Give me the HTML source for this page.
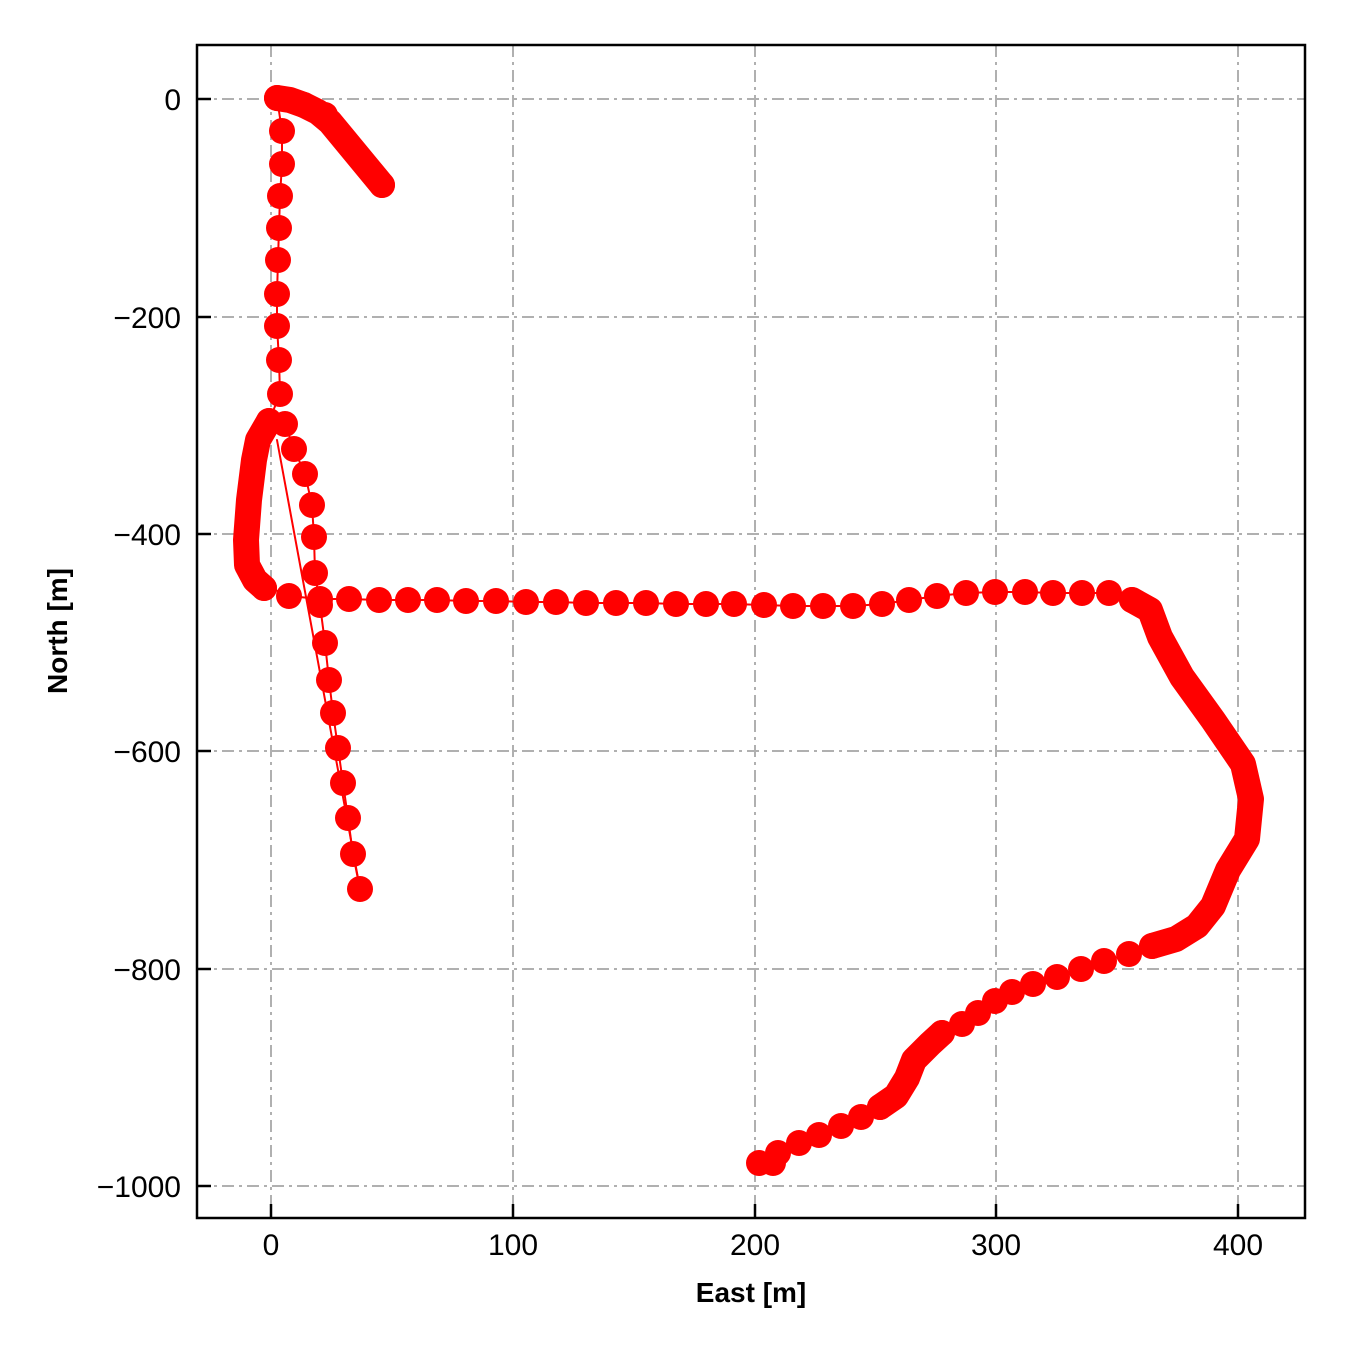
<!DOCTYPE html>
<html><head><meta charset="utf-8"><style>body{margin:0;background:#fff}svg{display:block}</style></head><body>
<svg width="1350" height="1350" xmlns="http://www.w3.org/2000/svg" font-family="Liberation Sans, sans-serif">
<g stroke="#b0b0b0" stroke-width="2" stroke-dasharray="12,5,3,5">
<line x1="271" y1="45" x2="271" y2="1218"/><line x1="513" y1="45" x2="513" y2="1218"/><line x1="755" y1="45" x2="755" y2="1218"/><line x1="996" y1="45" x2="996" y2="1218"/><line x1="1238" y1="45" x2="1238" y2="1218"/>
<line x1="197" y1="99" x2="1305" y2="99"/><line x1="197" y1="317" x2="1305" y2="317"/><line x1="197" y1="534" x2="1305" y2="534"/><line x1="197" y1="751" x2="1305" y2="751"/><line x1="197" y1="969" x2="1305" y2="969"/><line x1="197" y1="1186" x2="1305" y2="1186"/>
</g>
<g fill="none" stroke="#f00" stroke-linecap="round" stroke-linejoin="round">
<polyline stroke-width="2" points="277,98 282,131 282,164 280,196 279,228 278,260 277,294 277,326 279,360 280,394 269,421"/>
<line x1="277" y1="440" x2="360" y2="889" stroke-width="2"/>
<polyline stroke-width="2" points="285,424 294,449 305,474 312,505 314,537 315,573 320,605 325,643 329,680 333,713 338,748 343,783 348,818 353,854 360,889"/>
<polyline stroke-width="26" points="277,98 290,100 304,105 318,112 330,122 382,185"/>
<polyline stroke-width="26" points="269,421 258,440 254,460 249,500 246,540 247,565 255,580 264,588"/>
<polyline stroke-width="2" points="264,585 289,596 320,599 349,599 379,600 408,600 437,600 466,601 496,601 526,602 556,602 586,603 616,603 646,603 676,604 706,604 734,604 764,605 793,606 823,606 853,606 882,604 909,600 937,596 966,593 995,592 1025,592 1053,593 1082,593 1109,593 1132,600"/>
<polyline stroke-width="26" points="1132,600 1150,610 1160,637 1182,677 1213,720 1243,764 1251,799 1247,839 1228,870 1213,906 1197,926 1176,939 1152,946"/>
<polyline stroke-width="2" points="1152,946 1129,954 1104,961 1081,969 1057,977 1033,984 1012,992 995,1001 978,1013 962,1024 942,1033"/>
<polyline stroke-width="26" points="942,1033 930,1044 914,1060 907,1078 896,1096 880,1107"/>
<polyline stroke-width="2" points="880,1107 861,1117 841,1126 819,1135 799,1143 778,1153 759,1163 773,1163"/>
</g>
<g fill="#f00">
<circle cx="277" cy="98" r="13"/><circle cx="282" cy="131" r="13"/><circle cx="282" cy="164" r="13"/><circle cx="280" cy="196" r="13"/><circle cx="279" cy="228" r="13"/><circle cx="278" cy="260" r="13"/><circle cx="277" cy="294" r="13"/><circle cx="277" cy="326" r="13"/><circle cx="279" cy="360" r="13"/><circle cx="280" cy="394" r="13"/><circle cx="269" cy="421" r="13"/>
<circle cx="285" cy="424" r="13"/><circle cx="294" cy="449" r="13"/><circle cx="305" cy="474" r="13"/><circle cx="312" cy="505" r="13"/><circle cx="314" cy="537" r="13"/><circle cx="315" cy="573" r="13"/><circle cx="320" cy="605" r="13"/><circle cx="325" cy="643" r="13"/><circle cx="329" cy="680" r="13"/><circle cx="333" cy="713" r="13"/><circle cx="338" cy="748" r="13"/><circle cx="343" cy="783" r="13"/><circle cx="348" cy="818" r="13"/><circle cx="353" cy="854" r="13"/><circle cx="360" cy="889" r="13"/>
<circle cx="304" cy="105" r="13"/><circle cx="325" cy="115" r="13"/><circle cx="382" cy="185" r="13"/>
<circle cx="264" cy="588" r="13"/><circle cx="289" cy="596" r="13"/><circle cx="320" cy="599" r="13"/><circle cx="349" cy="599" r="13"/><circle cx="379" cy="600" r="13"/><circle cx="408" cy="600" r="13"/><circle cx="437" cy="600" r="13"/><circle cx="466" cy="601" r="13"/><circle cx="496" cy="601" r="13"/><circle cx="526" cy="602" r="13"/><circle cx="556" cy="602" r="13"/><circle cx="586" cy="603" r="13"/><circle cx="616" cy="603" r="13"/><circle cx="646" cy="603" r="13"/><circle cx="676" cy="604" r="13"/><circle cx="706" cy="604" r="13"/><circle cx="734" cy="604" r="13"/><circle cx="764" cy="605" r="13"/><circle cx="793" cy="606" r="13"/><circle cx="823" cy="606" r="13"/><circle cx="853" cy="606" r="13"/><circle cx="882" cy="604" r="13"/><circle cx="909" cy="600" r="13"/><circle cx="937" cy="596" r="13"/><circle cx="966" cy="593" r="13"/><circle cx="995" cy="592" r="13"/><circle cx="1025" cy="592" r="13"/><circle cx="1053" cy="593" r="13"/><circle cx="1082" cy="593" r="13"/><circle cx="1109" cy="593" r="13"/><circle cx="1132" cy="600" r="13"/>
<circle cx="1152" cy="946" r="13"/><circle cx="1129" cy="954" r="13"/><circle cx="1104" cy="961" r="13"/><circle cx="1081" cy="969" r="13"/><circle cx="1057" cy="977" r="13"/><circle cx="1033" cy="984" r="13"/><circle cx="1012" cy="992" r="13"/><circle cx="995" cy="1001" r="13"/><circle cx="978" cy="1013" r="13"/><circle cx="962" cy="1024" r="13"/><circle cx="942" cy="1033" r="13"/>
<circle cx="880" cy="1107" r="13"/><circle cx="861" cy="1117" r="13"/><circle cx="841" cy="1126" r="13"/><circle cx="819" cy="1135" r="13"/><circle cx="799" cy="1143" r="13"/><circle cx="778" cy="1153" r="13"/><circle cx="759" cy="1163" r="13"/><circle cx="773" cy="1163" r="13"/>
</g>
<rect x="197" y="45" width="1108" height="1173" fill="none" stroke="#000" stroke-width="2.5"/>
<g stroke="#000" stroke-width="2.5">
<line x1="271" y1="1218" x2="271" y2="1204"/><line x1="513" y1="1218" x2="513" y2="1204"/><line x1="755" y1="1218" x2="755" y2="1204"/><line x1="996" y1="1218" x2="996" y2="1204"/><line x1="1238" y1="1218" x2="1238" y2="1204"/>
<line x1="197" y1="99" x2="211" y2="99"/><line x1="197" y1="317" x2="211" y2="317"/><line x1="197" y1="534" x2="211" y2="534"/><line x1="197" y1="751" x2="211" y2="751"/><line x1="197" y1="969" x2="211" y2="969"/><line x1="197" y1="1186" x2="211" y2="1186"/>
</g>
<g font-size="30" fill="#000" text-anchor="middle">
<text x="271" y="1255">0</text><text x="513" y="1255">100</text><text x="755" y="1255">200</text><text x="996" y="1255">300</text><text x="1238" y="1255">400</text>
</g>
<g font-size="30" fill="#000" text-anchor="end">
<text x="181" y="110">0</text><text x="181" y="328">−200</text><text x="181" y="545">−400</text><text x="181" y="762">−600</text><text x="181" y="980">−800</text><text x="181" y="1197">−1000</text>
</g>
<text x="751" y="1302" font-size="28" font-weight="bold" text-anchor="middle">East [m]</text>
<text transform="translate(67,631) rotate(-90)" font-size="28" font-weight="bold" text-anchor="middle">North [m]</text>
</svg>
</body></html>
